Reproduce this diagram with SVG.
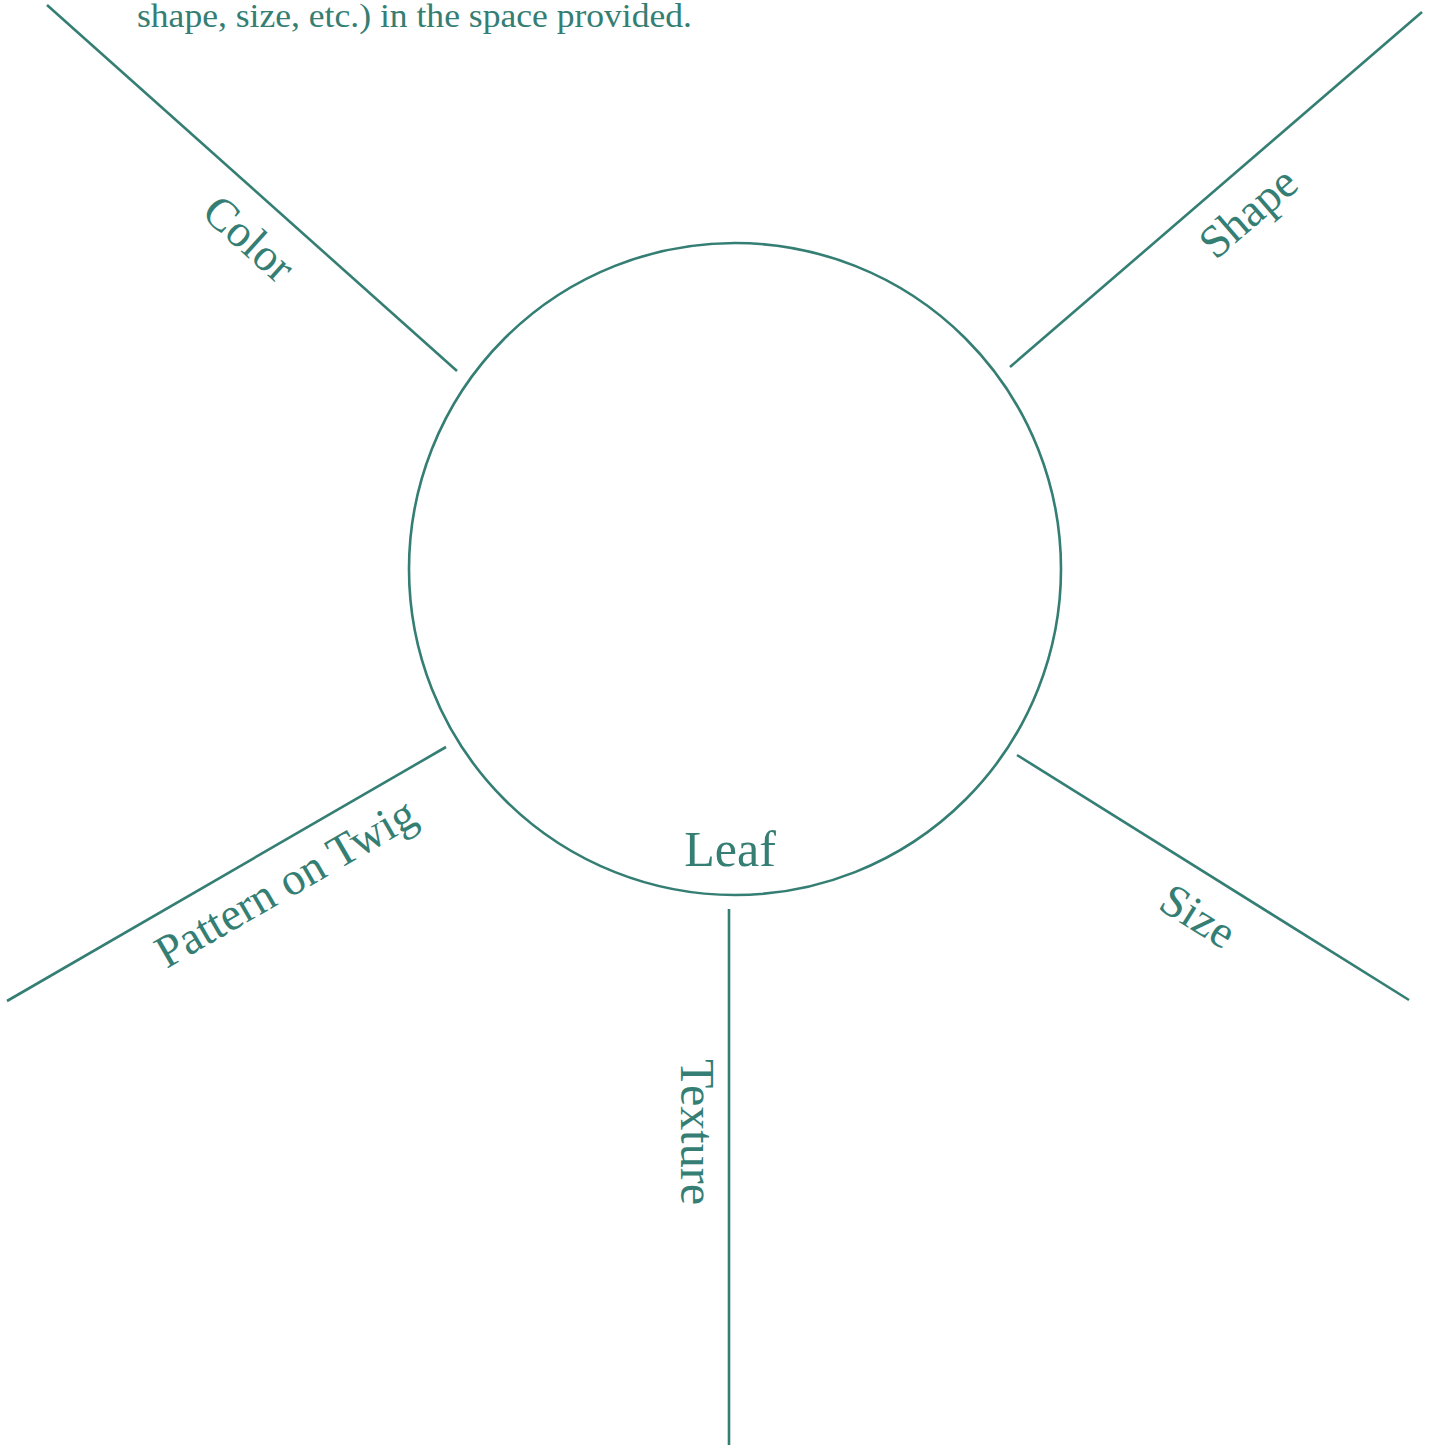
<svg xmlns="http://www.w3.org/2000/svg" width="1434" height="1445" viewBox="0 0 1434 1445">
<style>
.ln{stroke:#347e74;stroke-width:2.6;fill:none}
.t{font-family:"Liberation Serif",serif;fill:#347e74;text-anchor:middle}
</style>
<rect width="1434" height="1445" fill="#fff"/>
<text class="t" x="137" y="27" font-size="33" style="text-anchor:start" textLength="555" lengthAdjust="spacingAndGlyphs">shape, size, etc.) in the space provided.</text>
<g id="connectors">
<line class="ln" x1="47" y1="5" x2="457" y2="371"/>
<line class="ln" x1="1422" y1="12" x2="1010" y2="367"/>
<line class="ln" x1="446" y1="747" x2="7" y2="1001"/>
<line class="ln" x1="1017" y1="755" x2="1409" y2="1000"/>
<line class="ln" x1="729" y1="909" x2="729" y2="1445"/>
</g>
<g id="leaf">
<circle class="ln" cx="735" cy="569" r="326"/>
<text class="t" x="730" y="866" font-size="50">Leaf</text>
</g>
<g id="color"><text class="t" font-size="46" transform="translate(239,250) rotate(42)">Color</text></g>
<g id="shape"><text class="t" font-size="46" transform="translate(1258,224) rotate(-40.7)">Shape</text></g>
<g id="pattern"><text class="t" font-size="46" transform="translate(293,896) rotate(-30)">Pattern on Twig</text></g>
<g id="size"><text class="t" font-size="46" transform="translate(1190,929) rotate(32)">Size</text></g>
<g id="texture"><text class="t" font-size="48" transform="translate(681,1132) rotate(90)">Texture</text></g>
</svg>
